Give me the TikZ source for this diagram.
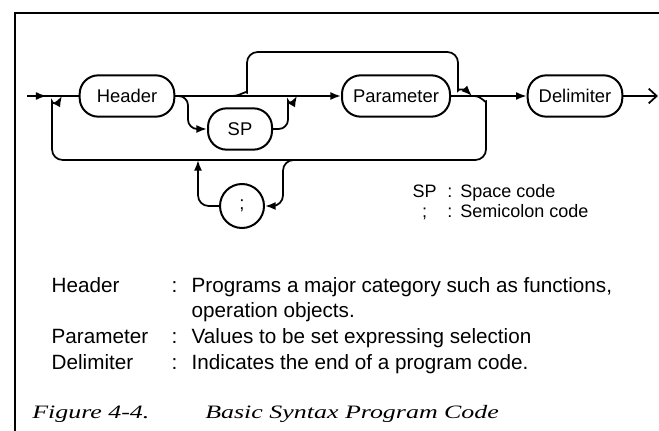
\documentclass[tikz,border=0pt]{standalone}
\usepackage{fontspec}
\newfontfamily\helv{Liberation Sans}
\newfontfamily\capfont[FakeStretch=1.37]{Liberation Serif}
\usetikzlibrary{arrows.meta,decorations.markings}

\begin{document}
\begin{tikzpicture}[x=0.75pt,y=0.75pt,
  pill/.style={draw,line width=1.5pt,rounded corners=14pt,minimum height=31pt,
    inner xsep=6pt,font=\helv\fontsize{13.8}{16}\selectfont},
  flow/.style={line width=1.3pt},
  tip/.style={-{Latex[length=8pt,width=6pt]}},
  arrowat/.style={postaction=decorate,decoration={markings,
    mark=at position #1 with {\arrow{Latex[length=8pt,width=6pt]}}}}]
\useasboundingbox (0,0) rectangle (659,-431);
% frame
\draw[line width=1.6pt] (659,-13) -- (15,-13) -- (15,-431);

% syntax boxes
\node[pill,minimum width=71pt] (header) at (127,-96) {Header};
\node[pill,minimum width=48pt] (sp) at (240,-129) {SP};
\node[pill,minimum width=81pt] (param) at (396,-96) {Parameter};
\node[pill,minimum width=71pt] (delim) at (575,-96) {Delimiter};
\node[draw,circle,line width=1.5pt,minimum size=33pt,inner sep=0pt,
  font=\helv\fontsize{13.8}{16}\selectfont] (semi) at (242,-206) {;};

% branch points
\coordinate (start) at (27,-96);
\coordinate (lpout) at (62,-96);
\coordinate (byin) at (232,-96);
\coordinate (spout) at (297,-96);
\coordinate (byout) at (472,-96);
\coordinate (lpin) at (474,-96);
\coordinate (scin) at (296,-160);
\coordinate (scout) at (198,-160);
\coordinate (end) at (658,-96);

% main line
\draw[flow,arrowat=0.38] (start) -- (header.west);
\draw[flow,tip] (header.east) -- (param.west);
\draw[flow,tip] (param.east) -- (delim.west);
\draw[flow,-{Straight Barb[length=6pt,width=11pt]}] (delim.east) -- (end);

% space code branch
\draw[flow,tip,rounded corners=7pt] (header.east) -- (188,-96) -- (188,-129) -- (sp.west);
\draw[flow,tip,rounded corners=7pt] (sp.east) -- (288,-129) -- (288,-110) to[out=90,in=-120] (spout);

% bypass over parameter
\draw[flow,tip,rounded corners=8pt] (byin) to[out=0,in=-90] (247,-82) -- (247,-52)
  -- (458,-52) -- (458,-80) to[out=-90,in=135] (byout);

% repeat loop
\draw[flow,tip,rounded corners=8pt] (lpin) to[out=0,in=90] (486,-112) -- (486,-160)
  -- (52,-160) -- (52,-112) to[out=90,in=-120] (lpout);

% semicolon branch
\draw[flow,tip,rounded corners=8pt] (scin) -| (283,-206) -- (semi.east);
\draw[flow,tip,rounded corners=8pt] (semi.west) -| (scout);

% legend
\node[anchor=base west,font=\helv\fontsize{13.5}{15.5}\selectfont] (legend) at (408,-197)
  {\begin{tabular}[t]{@{}c@{\hspace{8pt}}l@{\hspace{6pt}}l@{}}
   SP & : & Space code\\
   ;  & : & Semicolon code
   \end{tabular}};

% descriptions
\node[anchor=base west,font=\helv\fontsize{15.5}{19.3}\selectfont] (desc) at (47,-292)
  {\begin{tabular}[t]{@{}p{90pt}@{}p{15pt}@{}l@{}}
   Header & : & Programs a major category such as functions,\\
          &   & operation objects.\\
   Parameter & : & Values to be set expressing selection\\
   Delimiter & : & Indicates the end of a program code.
   \end{tabular}};

% caption
\node[anchor=base west,inner sep=0pt,font=\capfont\itshape\fontsize{14.2}{17}\selectfont] (figno) at (32,-418) {Figure 4-4.};
\node[anchor=base west,inner sep=0pt,font=\capfont\itshape\fontsize{14.2}{17}\selectfont] (figtitle) at (205,-418) {Basic Syntax Program Code};
\end{tikzpicture}
\end{document}
